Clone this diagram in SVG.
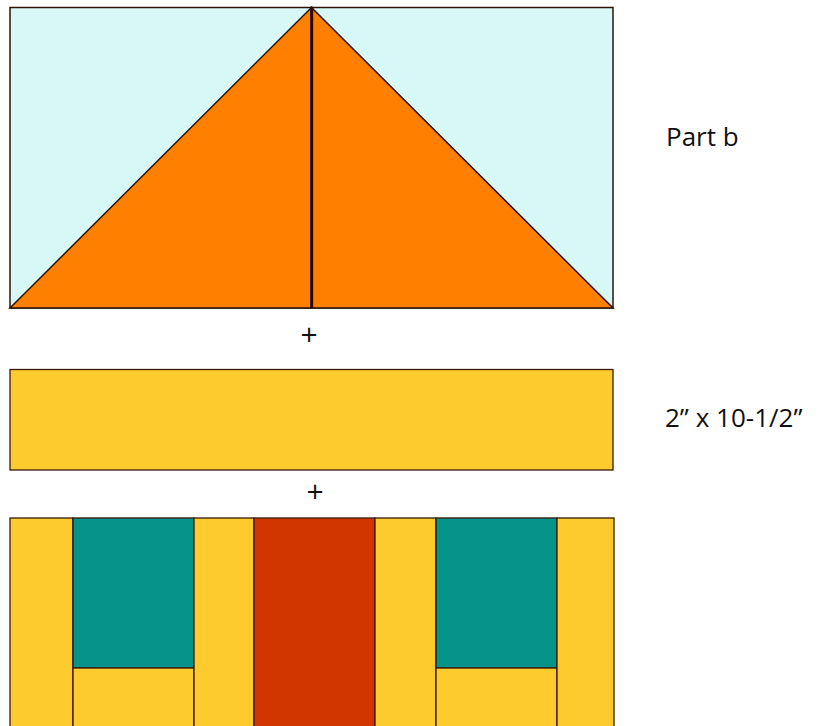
<svg xmlns="http://www.w3.org/2000/svg" width="824" height="726" viewBox="0 0 824 726">
<style>
.bg{fill:#D8F8F8;stroke:#2a1408;stroke-width:1.5}
.tri{fill:#FF8000;stroke:#2a1408;stroke-width:1.5;stroke-linejoin:miter}
.yel{fill:#FDCB2E;stroke:#3a1a08;stroke-width:1.3}
.teal{fill:#06948A;stroke:#2a1408;stroke-width:1.3}
.red{fill:#D13500;stroke:#3a1a08;stroke-width:1.3}
.lbl{font-family:"Open Sans","Liberation Sans",sans-serif;font-size:26px;fill:#111}
.plus{font-family:"Open Sans","Liberation Sans",sans-serif;font-size:30px;fill:#111;text-anchor:middle}
</style>
<rect width="824" height="726" fill="#ffffff"/>
<g id="part-b">
  <rect class="bg" x="10" y="7.5" width="603" height="300.5"/>
  <polygon class="tri" points="10,308 311.5,7.5 311.5,308"/>
  <polygon class="tri" points="311.5,7.5 613,308 311.5,308"/>
  <line x1="311.7" y1="7" x2="311.7" y2="308" stroke="#2a0a05" stroke-width="3"/>
</g>
<g id="plus-1"><text class="plus" x="309" y="345">+</text></g>
<g id="strip">
  <rect class="yel" x="10" y="369.5" width="603" height="100.5"/>
</g>
<g id="plus-2"><text class="plus" x="315" y="502">+</text></g>
<g id="bottom-block">
  <rect class="yel" x="10" y="518" width="63" height="210"/>
  <rect class="teal" x="73" y="518" width="121" height="150"/>
  <rect class="yel" x="73" y="668" width="121" height="60"/>
  <rect class="yel" x="194" y="518" width="60" height="210"/>
  <rect class="red" x="254" y="518" width="121" height="210"/>
  <rect class="yel" x="375" y="518" width="61" height="210"/>
  <rect class="teal" x="436" y="518" width="121" height="150"/>
  <rect class="yel" x="436" y="668" width="121" height="60"/>
  <rect class="yel" x="557" y="518" width="57" height="210"/>
</g>
<g id="labels">
  <text class="lbl" x="666" y="146">Part b</text>
  <text class="lbl" x="665" y="427">2” x 10-1/2”</text>
</g>
<g id="connectors"></g>
</svg>
